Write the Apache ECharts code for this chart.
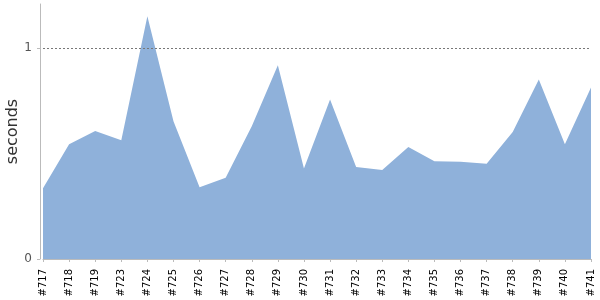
<!DOCTYPE html>
<html><head><meta charset="utf-8">
<script src="https://cdn.jsdelivr.net/npm/echarts@6/dist/echarts.min.js"></script>
<style>html,body{margin:0;padding:0;background:#fff}#c{width:600px;height:300px}</style>
</head><body><div id="c"></div>
<script>
const categories = ['#717','#718','#719','#723','#724','#725','#726','#727','#728','#729','#730','#731','#732','#733','#734','#735','#736','#737','#738','#739','#740','#741'];
const seconds = [0.336,0.545,0.607,0.564,1.152,0.654,0.341,0.385,0.630,0.919,0.430,0.757,0.437,0.422,0.531,0.464,0.462,0.452,0.603,0.852,0.544,0.814];
const yTicks = [0, 1];
const refLine = 1;

const chart = echarts.init(document.getElementById('c'), null, {renderer:'canvas'});
chart.setOption({
  animation: false,
  textStyle: {fontFamily: 'DejaVu Sans'},
  grid: {left: 43, right: 9, top: 4, bottom: 41, containLabel: false, outerBoundsMode: 'none'},
  xAxis: {
    type: 'category', data: categories, boundaryGap: false, offset: 4,
    axisLine: {lineStyle: {color: '#bbb', width: 1}},
    axisTick: {length: 3, lineStyle: {color: '#bbb'}, interval: 0},
    axisLabel: {rotate: 90, fontSize: 10, color: '#000', margin: 6, interval: 0, fontFamily: 'DejaVu Sans'}
  },
  yAxis: {
    type: 'value', min: 0, max: 1.21, offset: 3,
    name: 'seconds', nameLocation: 'middle', nameGap: 19, nameMoveOverlap: false,
    nameTextStyle: {fontSize: 16, color: '#333', fontFamily: 'DejaVu Sans'},
    axisLine: {show: true, lineStyle: {color: '#bbb', width: 1}},
    axisTick: {show: true, length: 3, lineStyle: {color: '#bbb'}, customValues: yTicks},
    axisLabel: {fontSize: 12, color: '#555', margin: 8, customValues: yTicks, fontFamily: 'DejaVu Sans'},
    splitLine: {show: false}
  },
  series: [{
    type: 'line', data: seconds, symbol: 'none',
    lineStyle: {width: 0, color: '#8fb1da'},
    itemStyle: {color: '#8fb1da'},
    areaStyle: {color: '#8fb1da', opacity: 1},
    markLine: {
      silent: true, symbol: 'none', label: {show: false},
      lineStyle: {color: '#777', type: [2, 2], width: 1},
      data: [{yAxis: refLine}]
    }
  }]
});
</script></body></html>
